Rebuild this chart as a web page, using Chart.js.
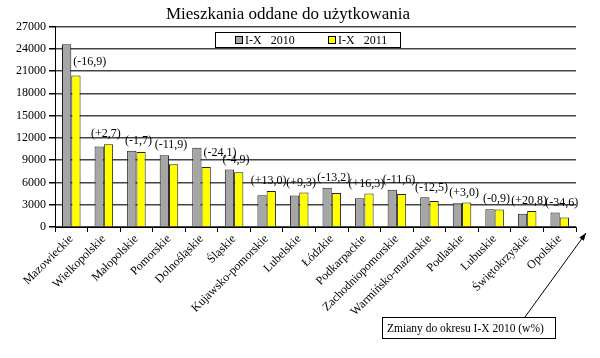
<!DOCTYPE html>
<html>
<head>
<meta charset="utf-8">
<script src="https://cdn.jsdelivr.net/npm/chart.js@4"></script>
<style>
  html, body { margin: 0; padding: 0; background: #fff; }
  #wrap { width: 600px; height: 358px; }
</style>
</head>
<body>
<div id="wrap"><canvas id="chart" width="600" height="358"></canvas></div>
<script>
const regions = ['Mazowieckie', 'Wielkopolskie', 'Małopolskie', 'Pomorskie', 'Dolnośląskie', 'Śląskie',
  'Kujawsko-pomorskie', 'Lubelskie', 'Łódzkie', 'Podkarpackie', 'Zachodniopomorskie',
  'Warmińsko-mazurskie', 'Podlaskie', 'Lubuskie', 'Świętokrzyskie', 'Opolskie'];
const flats2010 = [24600, 10850, 10250, 9650, 10650, 7750, 4280, 4250, 5280, 3880, 5020, 3990, 3200, 2380, 1790, 1950];
const flats2011 = [20400, 11130, 10100, 8450, 8090, 7370, 4850, 4650, 4590, 4520, 4440, 3490, 3300, 2360, 2160, 1280];
const changes = [-16.9, 2.7, -1.7, -11.9, -24.1, -4.9, 13.0, 9.3, -13.2, 16.3, -11.6, -12.5, 3.0, -0.9, 20.8, -34.6];
const yTicks = [0, 3000, 6000, 9000, 12000, 15000, 18000, 21000, 24000, 27000];

const serif = '"Liberation Serif", "DejaVu Serif", serif';

function fmtChange(v) {
  const s = (v > 0 ? '+' : '') + v.toFixed(1).replace('.', ',');
  return '(' + s + ')';
}

const extras = {
  id: 'extras',
  afterDatasetsDraw(chart) {
    const { ctx, chartArea } = chart;
    const y = chart.scales.y;
    const m0 = chart.getDatasetMeta(0);
    const m1 = chart.getDatasetMeta(1);
    ctx.save();
    ctx.font = '12px ' + serif;
    ctx.fillStyle = '#000';
    ctx.textBaseline = 'middle';
    changes.forEach((c, i) => {
      const g = m0.data[i], yl = m1.data[i];
      const txt = fmtChange(c);
      const top = Math.min(g.y, yl.y);
      if (yl.y - g.y > 14) {
        // grey bar sticks up: put the label beside it, above the yellow bar
        ctx.textAlign = 'left';
        ctx.fillText(txt, g.x + g.width / 2 + 2, yl.y - 14);
      } else {
        ctx.textAlign = 'center';
        ctx.fillText(txt, (g.x + yl.x) / 2 + 2, top - 10);
      }
    });

    // legend box
    const lx = 215, ly0 = 32, lw = 185, lh = 15;
    ctx.fillStyle = '#fff';
    ctx.fillRect(lx, ly0, lw, lh);
    ctx.strokeStyle = '#000';
    ctx.lineWidth = 1;
    ctx.strokeRect(lx + 0.5, ly0 + 0.5, lw, lh);
    ctx.font = '12px ' + serif;
    ctx.textAlign = 'left';
    chart.data.datasets.forEach((ds, k) => {
      const sx = lx + 20 + k * 93;
      ctx.fillStyle = ds.backgroundColor;
      ctx.fillRect(sx, ly0 + 4, 7, 7);
      ctx.strokeStyle = '#000';
      ctx.strokeRect(sx + 0.5, ly0 + 4.5, 7, 7);
      ctx.fillStyle = '#000';
      ctx.fillText(ds.label, sx + 10, ly0 + 8.5);
    });

    // annotation box and arrow
    const bx = 382, by = 317, bw = 173, bh = 21;
    ctx.strokeStyle = '#000';
    ctx.lineWidth = 1;
    ctx.strokeRect(bx + 0.5, by + 0.5, bw, bh);
    ctx.fillStyle = '#000';
    ctx.font = '11.5px ' + serif;
    ctx.fillText('Zmiany do okresu I-X 2010 (w%)', bx + 5, by + bh / 2 + 1);
    const ax0 = 525, ay0 = by, ax1 = chartArea.right + 10, ay1 = y.getPixelForValue(0) + 6;
    ctx.beginPath();
    ctx.moveTo(ax0, ay0);
    ctx.lineTo(ax1, ay1);
    ctx.stroke();
    const ang = Math.atan2(ay1 - ay0, ax1 - ax0);
    ctx.beginPath();
    ctx.moveTo(ax1, ay1);
    ctx.lineTo(ax1 - 8 * Math.cos(ang - 0.35), ay1 - 8 * Math.sin(ang - 0.35));
    ctx.lineTo(ax1 - 8 * Math.cos(ang + 0.35), ay1 - 8 * Math.sin(ang + 0.35));
    ctx.closePath();
    ctx.fill();
    ctx.restore();
  }
};

new Chart(document.getElementById('chart'), {
  type: 'bar',
  data: {
    labels: regions,
    datasets: [
      { label: 'I-X   2010', data: flats2010, backgroundColor: '#a6a6a6', borderColor: '#222', borderWidth: 1 },
      { label: 'I-X   2011', data: flats2011, backgroundColor: '#ffff00', borderColor: '#222', borderWidth: 1 }
    ]
  },
  options: {
    responsive: false,
    animation: false,
    layout: { padding: { right: 24, left: 0, bottom: 0 } },
    datasets: { bar: { categoryPercentage: 0.57, barPercentage: 1 } },
    plugins: {
      legend: { display: false },
      tooltip: { enabled: false },
      title: {
        display: true,
        text: 'Mieszkania oddane do użytkowania',
        color: '#000',
        font: { family: serif, size: 17, weight: 'normal' },
        padding: { top: 4, bottom: 2 }
      }
    },
    scales: {
      x: {
        grid: { offset: true, drawOnChartArea: false, drawTicks: true, tickLength: 5, color: '#000' },
        border: { color: '#000', width: 1 },
        ticks: { color: '#000', font: { family: serif, size: 12 }, minRotation: 45, maxRotation: 45, autoSkip: false, padding: 0 },
        afterFit(scale) { scale.height = 131; }
      },
      y: {
        min: 0,
        max: 27000,
        afterBuildTicks(scale) { scale.ticks = yTicks.map(v => ({ value: v })); },
        grid: { color: '#444', lineWidth: 1.5, tickLength: 6, tickColor: '#000' },
        border: { color: '#000', width: 1 },
        ticks: { color: '#000', font: { family: serif, size: 12 }, padding: 3, callback: v => String(v) },
        afterFit(scale) { scale.width = 55; }
      }
    }
  },
  plugins: [extras]
});
</script>
</body>
</html>
